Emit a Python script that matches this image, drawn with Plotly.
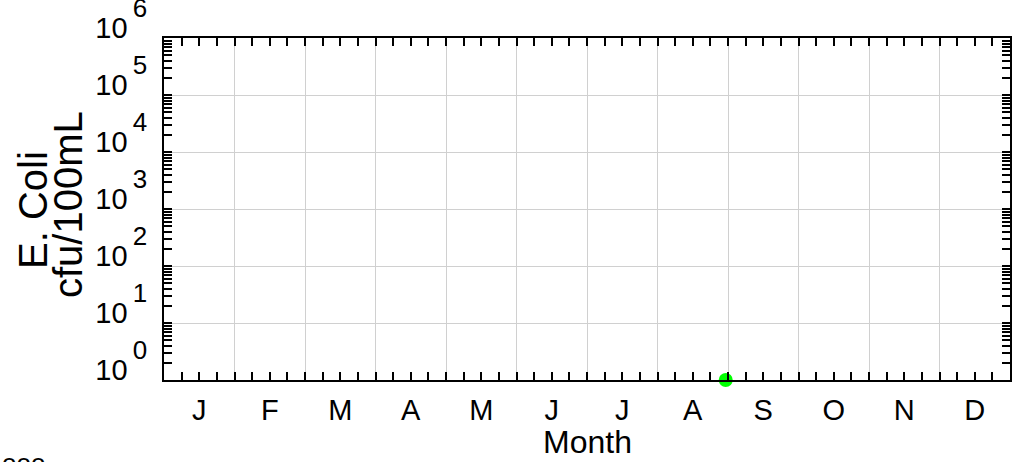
import plotly.graph_objects as go

# data
months = ["J", "F", "M", "A", "M", "J", "J", "A", "S", "O", "N", "D"]
sample_month = [8]          # August
sample_day = [31]
ecoli = [1]                 # cfu/100mL
days_in_month = [31, 28, 31, 30, 31, 30, 31, 31, 30, 31, 30, 31]
decades = [0, 1, 2, 3, 4, 5, 6]

# month position as fractional month (0 = Jan 1, 12 = end of Dec)
xpos = [m - 1 + (d - 1) / days_in_month[m - 1] for m, d in zip(sample_month, sample_day)]

FONT = "Liberation Sans, Arial, sans-serif"
W, H = 1016, 462
L, T = 164, 38
R, B = W - 1010, H - 380
pw, ph = W - L - R, H - T - B

def px_x(p):
    # pixel column -> paper coords
    return (p - L) / pw

def px_y(p):
    return (H - B - p) / ph

fig = go.Figure()
fig.add_trace(go.Scatter(x=xpos, y=ecoli, mode="markers",
                         marker=dict(color="#00ff00", size=14),
                         cliponaxis=False, showlegend=False))
# empty trace so xaxis2 (grid + ticks) is drawn
fig.add_trace(go.Scatter(x=[None], y=[None], xaxis="x2", showlegend=False))

minor_y = [k * 10 ** d for d in decades[:-1] for k in range(2, 10)]
ytext = ['10<span style="font-size:26px;baseline-shift:21px">\u2009%d</span>' % d for d in decades]

fig.update_layout(
    width=W, height=H,
    margin=dict(l=L, r=R, t=T, b=B),
    paper_bgcolor="white", plot_bgcolor="white",
    font=dict(family=FONT, color="black", size=29),
    xaxis=dict(range=[0, 12], tickmode="array", automargin=False,
               tickvals=[i + 0.5 for i in range(12)], ticktext=months,
               ticks="", showgrid=False, showline=False, zeroline=False,
               tickfont=dict(size=29), ticklabelstandoff=10),
    xaxis2=dict(overlaying="x", range=[0, 12], side="bottom", automargin=False,
                tickmode="array", tickvals=list(range(13)), showticklabels=False,
                ticks="inside", ticklen=8, tickwidth=2, tickcolor="black",
                showgrid=True, gridcolor="#d0d0d0", gridwidth=1,
                showline=True, linecolor="black", linewidth=2, mirror="ticks",
                zeroline=False,
                minor=dict(tickmode="array", tickvals=[i / 4 for i in range(49)],
                           ticks="inside", ticklen=8, tickwidth=2,
                           tickcolor="black", showgrid=False)),
    yaxis=dict(type="log", range=[0, 6], tickmode="array", automargin=False,
               tickvals=[10 ** d for d in decades], ticktext=ytext,
               ticks="inside", ticklen=8, tickwidth=2, tickcolor="black",
               showgrid=True, gridcolor="#d0d0d0", gridwidth=1,
               showline=True, linecolor="black", linewidth=2, mirror="ticks",
               zeroline=False, tickfont=dict(size=29), ticklabelshift=-10,
               ticklabelstandoff=9, ticklabeloverflow="allow",
               minor=dict(tickmode="array", tickvals=minor_y, ticks="inside",
                          ticklen=8, tickwidth=2, tickcolor="black",
                          showgrid=False)),
)

# y title, two tight lines
fig.add_annotation(text="E. Coli", xref="paper", yref="paper",
                   x=px_x(33), y=px_y(210), textangle=-90, showarrow=False,
                   xanchor="center", yanchor="middle", font=dict(size=40))
fig.add_annotation(text="cfu/100mL", xref="paper", yref="paper",
                   x=px_x(68), y=px_y(205), textangle=-90, showarrow=False,
                   xanchor="center", yanchor="middle", font=dict(size=40))

# x title
fig.add_annotation(text="Month", xref="paper", yref="paper",
                   x=px_x(587), y=px_y(442), showarrow=False,
                   xanchor="center", yanchor="middle", font=dict(size=32))

# text cut off at the lower left edge
fig.add_annotation(text="ooo", xref="paper", yref="paper", x=px_x(0), y=px_y(463),
                   xanchor="left", yanchor="middle", showarrow=False,
                   font=dict(size=26))

# no page margin, so the figure sits at the window's corner
fig.write_html("out.html", config={"displayModeBar": False},
               post_script="document.body.style.margin='0';")
